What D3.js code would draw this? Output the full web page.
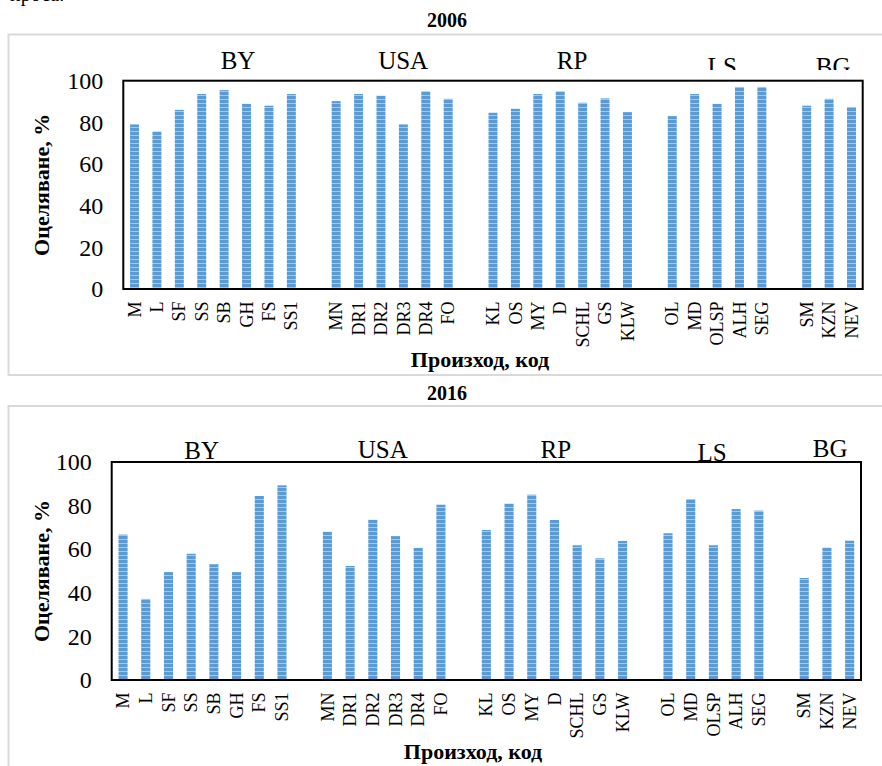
<!DOCTYPE html>
<html>
<head>
<meta charset="utf-8">
<script src="https://cdn.jsdelivr.net/npm/d3@7"></script>
<style>
  body { margin: 0; background: #fff; }
  svg { display: block; }
  svg text { font-family: "Liberation Serif", "Times New Roman", "DejaVu Serif", serif; }
</style>
</head>
<body>
<div id="chart"></div>
<script>
// groups and their codes
var groups = ["BY", "USA", "RP", "LS", "BG"];
var codes = [
  ["M", "L", "SF", "SS", "SB", "GH", "FS", "SS1"],
  ["MN", "DR1", "DR2", "DR3", "DR4", "FO"],
  ["KL", "OS", "MY", "D", "SCHL", "GS", "KLW"],
  ["OL", "MD", "OLSP", "ALH", "SEG"],
  ["SM", "KZN", "NEV"]
];
var yTicks = [0, 20, 40, 60, 80, 100];

// survival, %
var values2006 = [
  79, 75.6, 86, 93.6, 95.5, 88.9, 88, 93.6,
  90.2, 93.6, 92.8, 79, 94.9, 91.3,
  84.6, 86.5, 93.6, 94.9, 89.4, 91.5, 84.9,
  83, 93.6, 88.9, 97, 97,
  88, 91.3, 87.4
];
var values2016 = [
  66.7, 37.2, 49.5, 57.9, 53.1, 49.5, 84.4, 89.3,
  68, 52.3, 73.5, 66, 60.6, 80.4,
  68.8, 80.9, 85, 73.4, 61.8, 55.8, 63.8,
  67.3, 83, 61.8, 78.4, 77.7,
  46.8, 60.7, 63.9
];

var W = 882, H = 766;
var svg = d3.select("#chart").append("svg")
  .attr("width", W).attr("height", H);

// striped bar fill
var defs = svg.append("defs");
var pat = defs.append("pattern")
  .attr("id", "stripes")
  .attr("patternUnits", "userSpaceOnUse")
  .attr("width", 8).attr("height", 4);
pat.append("rect").attr("width", 8).attr("height", 4).attr("fill", "#5b9bd5");
pat.append("rect").attr("y", 3).attr("width", 8).attr("height", 1).attr("fill", "#a7c7e9");

// cut text line from the page above
svg.append("text")
  .attr("x", 10).attr("y", 1)
  .style("font-size", "20px")
  .text("проса.");

// slot keys: codes with an empty slot between groups
var slots = [];
codes.forEach(function (g, gi) {
  g.forEach(function (c) { slots.push(c); });
  if (gi < codes.length - 1) slots.push("gap" + gi);
});

function drawChart(opt) {
  var data = [];
  codes.forEach(function (g) { g.forEach(function (c) { data.push(c); }); });

  var x = d3.scaleBand()
    .domain(slots)
    .range([opt.left, opt.right])
    .paddingInner(0.6)
    .paddingOuter(0.3);
  var y = d3.scaleLinear().domain([0, 100]).range([opt.bottom, opt.top]);

  // outer frame
  svg.append("rect")
    .attr("x", 8.5).attr("y", opt.frameTop)
    .attr("width", 900).attr("height", opt.frameH)
    .attr("fill", "none")
    .attr("stroke", "#d9d9d9")
    .attr("stroke-width", 2);

  svg.append("text")
    .attr("x", 447).attr("y", opt.titleY)
    .attr("text-anchor", "middle")
    .style("font-size", "20px").style("font-weight", "bold")
    .text(opt.title);

  // group names
  var clipId = "clip" + opt.title;
  defs.append("clipPath").attr("id", clipId)
    .append("rect").attr("x", 0).attr("y", 0).attr("width", W).attr("height", opt.groupClip);
  var step = x.step();
  svg.append("g")
    .attr("clip-path", "url(#" + clipId + ")")
    .selectAll("text")
    .data(groups)
    .join("text")
    .attr("x", function (d, i) { return opt.left + opt.groupSlots[i] * step; })
    .attr("y", function (d, i) { return opt.groupBase[i]; })
    .attr("text-anchor", "middle")
    .style("font-size", "25px")
    .text(function (d) { return d; });

  // bars
  svg.append("g")
    .selectAll("rect")
    .data(data)
    .join("rect")
    .attr("x", function (d) { return x(d); })
    .attr("width", x.bandwidth())
    .attr("y", function (d, i) { return y(opt.values[i]); })
    .attr("height", function (d, i) { return y(0) - y(opt.values[i]); })
    .attr("fill", "url(#stripes)");

  // plot border
  svg.append("rect")
    .attr("x", opt.left).attr("y", opt.top)
    .attr("width", opt.right - opt.left)
    .attr("height", opt.bottom - opt.top)
    .attr("fill", "none")
    .attr("stroke", "#000")
    .attr("stroke-width", 2);

  // y axis
  svg.append("g")
    .attr("transform", "translate(" + opt.left + ",0)")
    .call(d3.axisLeft(y).tickValues(yTicks).tickSize(0).tickPadding(20))
    .attr("font-family", null)
    .call(function (g) { g.select(".domain").remove(); })
    .call(function (g) {
      g.selectAll("text")
        .attr("fill", "#000")
        .style("font-size", "24px");
    });

  // x axis (codes only, rotated)
  svg.append("g")
    .attr("transform", "translate(0," + opt.bottom + ")")
    .call(d3.axisBottom(x).tickValues(data).tickSize(0))
    .attr("font-family", null)
    .call(function (g) { g.select(".domain").remove(); })
    .call(function (g) {
      g.selectAll("text")
        .attr("fill", "#000")
        .attr("transform", "rotate(-90)")
        .attr("text-anchor", "end")
        .attr("x", -12.5)
        .attr("y", 0)
        .attr("dy", "0.34em")
        .style("font-size", "18px");
    });

  // axis titles
  svg.append("text")
    .attr("transform", "translate(49," + (opt.top + opt.bottom) / 2 + ") rotate(-90)")
    .attr("text-anchor", "middle")
    .style("font-size", "22px").style("font-weight", "bold")
    .text("Оцеляване, %");

  svg.append("text")
    .attr("x", opt.xTitleX).attr("y", opt.xTitleY)
    .attr("text-anchor", "middle")
    .style("font-size", "22px").style("font-weight", "bold")
    .text("Произход, код");
}

drawChart({
  title: "2006", values: values2006,
  left: 123.3, right: 862.7, top: 80.7, bottom: 289,
  frameTop: 34.5, frameH: 340.5, titleY: 27,
  groupSlots: [5.12, 12.49, 20.03, 26.73, 31.68],
  groupBase: [69, 69, 69, 75, 75], groupClip: 70,
  xTitleX: 480, xTitleY: 367
});

drawChart({
  title: "2016", values: values2016,
  left: 111.7, right: 861, top: 462, bottom: 680,
  frameTop: 406, frameH: 400, titleY: 400,
  groupSlots: [3.96, 11.94, 19.56, 26.44, 31.64],
  groupBase: [459, 458, 458, 461, 457], groupClip: 766,
  xTitleX: 473, xTitleY: 759
});
</script>
</body>
</html>
